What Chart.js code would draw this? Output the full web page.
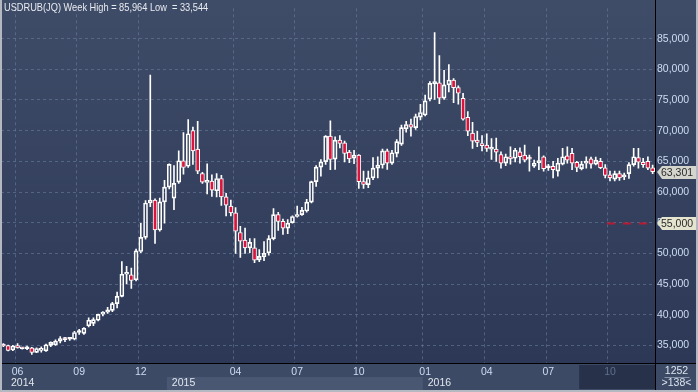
<!DOCTYPE html>
<html>
<head>
<meta charset="utf-8">
<script src="https://cdn.jsdelivr.net/npm/chart.js@4.4.1/dist/chart.umd.min.js"></script>
<style>
  html, body { margin: 0; padding: 0; background: #2c3856; }
  canvas { display: block; }
</style>
</head>
<body>
<canvas id="chart" width="698" height="392"></canvas>
<script>
// weekly USDRUB candles
const opens = [
  35.10, 34.95, 34.25, 34.95, 34.50, 34.45, 34.60, 33.85, 34.20, 34.10,
  35.00, 35.10, 35.70, 36.00, 36.00, 36.00, 37.10, 36.95, 38.20, 38.60,
  39.10, 40.10, 40.40, 40.70, 41.80, 43.00, 46.60, 46.50, 45.70, 50.30,
  52.60, 58.20, 58.70, 53.80, 58.40, 60.80, 59.00, 61.60, 65.10, 64.20,
  70.00, 67.00, 63.00, 61.55, 61.80, 60.20, 62.20, 59.20, 57.70, 56.60,
  53.40, 52.15, 50.90, 50.90, 48.95, 49.45, 50.10, 52.40, 56.30, 55.20,
  54.10, 55.00, 56.00, 56.30, 56.90, 58.35, 61.70, 64.05, 64.95, 69.10,
  65.35, 68.45, 68.00, 66.50, 65.50, 66.00, 61.70, 61.20, 62.30, 63.90,
  64.40, 66.70, 64.70, 66.30, 67.80, 70.30, 71.00, 70.50, 72.20, 72.55,
  75.15, 77.60, 77.80, 75.30, 77.45, 78.25, 77.00, 75.25, 72.15, 69.60,
  68.45, 67.90, 67.65, 67.00, 67.00, 66.10, 64.70, 65.75, 65.50, 66.55,
  66.00, 65.45, 64.20, 64.80, 65.75, 63.95, 64.20, 63.40, 64.55, 65.90,
  66.30, 64.85, 63.80, 64.70, 65.40, 64.55, 65.00, 63.95, 62.80, 62.10,
  63.00, 62.45, 63.00, 64.45, 65.60, 64.85, 65.00, 63.95
];
const highs = [
  35.30, 35.05, 35.00, 35.30, 34.65, 34.90, 34.70, 34.60, 34.75, 35.20,
  35.60, 35.90, 36.45, 36.30, 36.30, 37.30, 37.60, 37.90, 39.50, 39.50,
  40.10, 40.50, 41.20, 42.00, 43.70, 48.65, 47.90, 47.60, 50.70, 54.90,
  58.60, 79.05, 58.90, 59.00, 61.90, 64.60, 64.30, 66.70, 69.70, 71.80,
  70.60, 71.50, 63.20, 64.60, 62.80, 63.00, 62.70, 59.80, 58.70, 57.45,
  54.40, 54.10, 52.40, 52.40, 50.60, 51.90, 52.90, 57.30, 56.70, 55.60,
  55.50, 56.10, 57.70, 57.50, 58.80, 61.80, 64.30, 65.30, 69.20, 71.60,
  69.00, 69.20, 68.30, 66.80, 66.80, 66.10, 63.40, 63.40, 65.60, 65.75,
  67.00, 67.00, 66.80, 68.55, 70.90, 71.50, 71.90, 72.70, 74.30, 75.80,
  78.00, 85.964, 82.25, 79.85, 80.75, 78.50, 77.30, 76.10, 73.10, 71.35,
  69.90, 69.20, 69.50, 68.70, 68.80, 66.55, 66.20, 67.35, 67.10, 67.20,
  67.65, 66.00, 65.20, 67.35, 65.90, 64.50, 65.00, 65.50, 67.10, 67.35,
  67.10, 65.00, 65.00, 65.75, 65.70, 65.70, 65.50, 64.45, 63.40, 63.40,
  63.40, 63.10, 64.80, 67.10, 67.10, 65.50, 65.75, 64.40
];
const lows = [
  34.80, 34.10, 34.15, 34.55, 34.40, 34.30, 33.544, 33.80, 33.90, 34.00,
  34.80, 35.00, 35.40, 35.60, 35.80, 35.90, 36.80, 36.80, 38.00, 38.20,
  39.00, 39.80, 40.20, 40.50, 41.10, 42.90, 45.00, 44.30, 45.50, 50.10,
  52.30, 57.60, 51.60, 53.60, 54.90, 60.50, 57.10, 61.40, 62.90, 64.00,
  64.50, 63.00, 61.40, 59.70, 59.30, 59.20, 57.80, 56.10, 56.10, 50.00,
  49.35, 50.00, 50.10, 48.50, 48.65, 48.80, 49.70, 52.20, 53.75, 53.10,
  53.20, 54.90, 55.90, 56.20, 56.70, 58.20, 60.90, 62.60, 64.50, 63.65,
  63.70, 67.20, 64.90, 64.80, 64.60, 60.60, 60.60, 60.70, 62.00, 62.30,
  63.90, 63.70, 64.50, 65.70, 67.60, 69.75, 69.10, 70.20, 71.75, 72.40,
  74.85, 75.10, 74.40, 75.10, 76.30, 74.55, 74.30, 71.70, 69.20, 67.10,
  67.40, 66.70, 66.60, 65.30, 65.00, 63.90, 64.30, 64.55, 64.90, 64.70,
  64.90, 63.40, 64.00, 63.65, 63.40, 63.50, 62.30, 62.60, 64.40, 64.70,
  63.65, 63.30, 63.60, 63.90, 63.90, 64.40, 63.80, 62.30, 61.80, 61.80,
  61.90, 62.00, 62.20, 64.20, 63.90, 64.00, 63.65, 63.00
];
const closes = [
  34.90, 34.20, 34.90, 34.60, 34.45, 34.50, 33.85, 34.50, 34.45, 35.10,
  35.50, 35.70, 36.10, 35.95, 36.05, 37.10, 37.20, 37.80, 39.10, 39.20,
  40.05, 40.40, 40.80, 41.80, 43.00, 46.60, 46.90, 45.60, 50.40, 52.60,
  58.20, 58.70, 53.80, 58.40, 60.80, 64.50, 61.40, 65.10, 64.00, 69.50,
  66.70, 63.40, 61.60, 61.90, 60.30, 62.20, 59.20, 57.85, 56.60, 53.60,
  52.00, 50.90, 51.80, 48.90, 49.50, 50.00, 52.40, 56.30, 55.20, 54.10,
  54.90, 56.00, 56.30, 57.00, 58.35, 61.70, 64.05, 64.90, 69.10, 65.30,
  68.45, 67.90, 66.30, 65.40, 66.00, 61.70, 61.25, 62.30, 63.90, 64.40,
  66.70, 64.70, 66.40, 68.20, 70.50, 71.00, 70.55, 72.30, 72.95, 74.85,
  77.70, 78.00, 75.30, 77.45, 78.25, 77.00, 76.10, 71.85, 69.90, 68.30,
  68.10, 67.55, 67.10, 67.20, 66.50, 64.70, 65.75, 65.40, 66.80, 65.75,
  65.20, 65.35, 64.70, 65.00, 63.80, 64.05, 63.65, 64.70, 65.75, 65.20,
  64.70, 64.00, 64.55, 65.00, 64.55, 65.20, 63.95, 62.70, 62.30, 63.00,
  62.30, 62.80, 64.45, 65.75, 64.85, 64.45, 63.90, 63.301
];

// axis labels
const monthTickIndex = [3, 16, 29, 49, 62, 75, 89, 102, 115, 128];
const monthTickText = ['06', '09', '12', '04', '07', '10', '01', '04', '07', '10'];
const yearStartIndex = [0, 35, 89];
const yearText = ['2014', '2015', '2016'];
const yTicks = [35, 40, 45, 50, 55, 60, 65, 70, 75, 80, 85];
const alertLevel = 55;
const shadedFromIndex = 122;
const counterText = '1252';

const FONT = '"Liberation Sans", Arial, sans-serif';
const FSIZE = 10.5;
const RED = '#dc143c';
const GRID = 'rgba(112, 130, 162, 0.55)';
const LABEL = '#cddcf2';

const fmt = v => v.toFixed(3).replace('.', ',');
const categories = closes.map((_, i) => String(i + 1));

const bodies = opens.map((o, i) => [o, closes[i]]);
const upperWicks = highs.map((h, i) => [Math.max(opens[i], closes[i]), h]);
const lowerWicks = lows.map((l, i) => [l, Math.min(opens[i], closes[i])]);

const decor = {
  id: 'decor',
  beforeDraw(chart) {
    const { ctx, chartArea: a, width, height } = chart;
    const x = chart.scales.x;
    const half = (x.getPixelForValue(1) - x.getPixelForValue(0)) / 2;
    const edge = i => x.getPixelForValue(i) - half;
    ctx.save();
    const g = ctx.createLinearGradient(0, 0, 0, a.bottom);
    g.addColorStop(0, '#3f4c68');
    g.addColorStop(1, '#2c3856');
    ctx.fillStyle = g;
    ctx.fillRect(0, 0, width, a.bottom);
    // axis strip
    ctx.fillStyle = '#3d4a65';
    ctx.fillRect(0, a.bottom, width, height - a.bottom);
    // year bands, every second one lighter
    yearStartIndex.forEach((s, k) => {
      if (k % 2 === 0) return;
      const x0 = edge(s);
      const x1 = k + 1 < yearStartIndex.length ? edge(yearStartIndex[k + 1]) : a.right;
      ctx.fillStyle = '#4a5773';
      ctx.fillRect(x0, a.bottom + 14, x1 - x0, 13);
    });
    // shaded (current) period
    const sx = edge(shadedFromIndex);
    ctx.fillStyle = '#27324a';
    ctx.fillRect(sx, a.bottom + 2, a.right - sx, 24);
    ctx.restore();
  },
  afterDraw(chart) {
    const { ctx, chartArea: a, width, height } = chart;
    const x = chart.scales.x, y = chart.scales.y;
    const half = (x.getPixelForValue(1) - x.getPixelForValue(0)) / 2;
    ctx.save();
    // separators
    ctx.fillStyle = '#000';
    ctx.fillRect(a.right, 0, 1, height);
    ctx.fillRect(0, a.bottom, width, 1);

    ctx.font = FSIZE + 'px ' + FONT;
    ctx.textBaseline = 'middle';

    // year labels
    ctx.fillStyle = '#e2e7ee';
    ctx.textAlign = 'left';
    yearStartIndex.forEach((s, k) => {
      const x0 = k === 0 ? a.left + 10 : x.getPixelForValue(s) - half + 5;
      ctx.fillText(yearText[k], x0, a.bottom + 20);
    });

    // corner box
    const cx = (a.right + width) / 2;
    ctx.textAlign = 'center';
    ctx.fillStyle = '#dbe4ef';
    ctx.fillText(counterText, cx, a.bottom + 8);
    ctx.fillText('>' + closes.length + '<', cx, a.bottom + 20);
    ctx.fillStyle = '#8592a8';
    ctx.fillRect(cx - 12, a.bottom + 14, 25, 1);

    // title (narrow face in the original, squeeze a little)
    const hi = Math.max(...highs), lo = Math.min(...lows);
    ctx.save();
    ctx.translate(4, 8);
    ctx.scale(0.84, 1);
    ctx.textAlign = 'left';
    ctx.fillStyle = '#e8ebf0';
    ctx.font = '11px ' + FONT;
    ctx.fillText('USDRUB(JQ) Week High = ' + fmt(hi) + ' Low  = ' + fmt(lo), 0, 0);
    ctx.restore();

    // alert level line
    const ay = Math.round(y.getPixelForValue(alertLevel)) + 0.5;
    ctx.strokeStyle = '#b81a32';
    ctx.lineWidth = 2;
    ctx.setLineDash([8, 8]);
    ctx.beginPath();
    ctx.moveTo(a.right - 48, ay);
    ctx.lineTo(a.right - 3, ay);
    ctx.stroke();
    ctx.setLineDash([]);

    // price tags
    function tag(value, bg) {
      const ty = Math.round(y.getPixelForValue(value));
      ctx.beginPath();
      ctx.moveTo(a.right + 2, ty);
      ctx.lineTo(a.right + 7, ty - 6);
      ctx.lineTo(width - 2, ty - 6);
      ctx.lineTo(width - 2, ty + 7);
      ctx.lineTo(a.right + 7, ty + 7);
      ctx.closePath();
      ctx.fillStyle = bg;
      ctx.fill();
      ctx.fillStyle = '#2a2a2a';
      ctx.textAlign = 'left';
      ctx.fillText(fmt(value), a.right + 6, ty + 1);
    }
    tag(alertLevel, '#e4e4cf');
    tag(closes[closes.length - 1], '#d4d5cc');

    // outer frame
    ctx.fillStyle = '#b4b8c0';
    ctx.fillRect(0, 0, 2, height);
    ctx.fillRect(width - 2, 0, 2, height);
    ctx.fillRect(0, height - 2, width, 2);
    ctx.restore();
  }
};

new Chart(document.getElementById('chart'), {
  type: 'bar',
  data: {
    labels: categories,
    datasets: [
      {
        label: 'upper wick',
        data: upperWicks,
        backgroundColor: '#ffffff',
        barThickness: 1,
        grouped: false
      },
      {
        label: 'lower wick',
        data: lowerWicks,
        backgroundColor: '#ffffff',
        barThickness: 1,
        grouped: false
      },
      {
        label: 'body',
        data: bodies,
        backgroundColor: closes.map((c, i) => c >= opens[i] ? 'rgba(0,0,0,0)' : RED),
        borderColor: '#ffffff',
        borderWidth: 1,
        borderSkipped: false,
        barThickness: 4,
        minBarLength: 2,
        grouped: false
      }
    ]
  },
  options: {
    responsive: false,
    devicePixelRatio: 1,
    animation: false,
    layout: { padding: { left: 1, top: 0, right: 0, bottom: 0 } },
    plugins: {
      legend: { display: false },
      tooltip: { enabled: false }
    },
    scales: {
      x: {
        offset: true,
        afterFit: s => { s.height = 29; },
        border: { display: false, dash: [3, 3] },
        grid: {
          offset: true,
          drawTicks: false,
          color: c => monthTickIndex.includes(c.index) ? GRID : 'rgba(0,0,0,0)'
        },
        ticks: {
          autoSkip: false,
          maxRotation: 0,
          minRotation: 0,
          padding: 3,
          font: { family: FONT, size: FSIZE },
          color: c => c.index >= shadedFromIndex ? '#5f6f8c' : LABEL,
          callback: (v, i) => {
            const k = monthTickIndex.indexOf(i);
            return k >= 0 ? monthTickText[k] : '';
          }
        }
      },
      y: {
        position: 'right',
        min: 32.13,
        max: 89.94,
        afterFit: s => { s.width = 43; },
        afterBuildTicks: s => { s.ticks = yTicks.map(v => ({ value: v })); },
        border: { display: false, dash: [3, 3] },
        grid: { color: GRID, drawTicks: false },
        ticks: {
          padding: 2,
          font: { family: FONT, size: FSIZE },
          color: LABEL,
          callback: v => fmt(v)
        }
      }
    }
  },
  plugins: [decor]
});
</script>
</body>
</html>
